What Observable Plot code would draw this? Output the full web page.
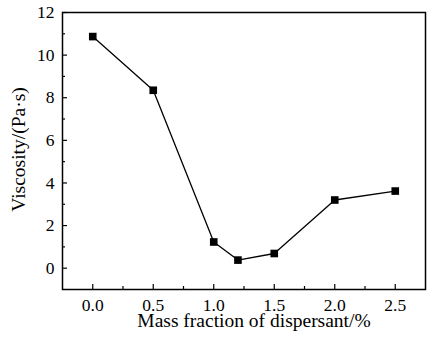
<!DOCTYPE html>
<html><head><meta charset="utf-8">
<script src="https://cdn.jsdelivr.net/npm/d3@7"></script>
<script src="https://cdn.jsdelivr.net/npm/@observablehq/plot@0.6"></script>
<style>body{margin:0;background:#fff}</style>
</head><body><div id="chart"></div>
<script>
const fraction = [0.0, 0.5, 1.0, 1.2, 1.5, 2.0, 2.5];
const viscosity = [10.87, 8.35, 1.23, 0.38, 0.69, 3.2, 3.62];
const xTicks = [0.0, 0.5, 1.0, 1.5, 2.0, 2.5];
const xMinor = [0.25, 0.75, 1.25, 1.75, 2.25];
const yTicks = [0, 2, 4, 6, 8, 10, 12];
const yMinor = [1, 3, 5, 7, 9, 11];
const xLabel = "Mass fraction of dispersant/%";
const yLabel = "Viscosity/(Pa·s)";

const data = fraction.map((f, i) => ({f, v: viscosity[i]}));
const font = "'Liberation Serif', 'Times New Roman', serif";

const chart = Plot.plot({
  width: 429, height: 344,
  marginLeft: 62, marginRight: 4, marginTop: 12, marginBottom: 55,
  style: {fontFamily: font, fontSize: "17.5px", color: "black", background: "white"},
  x: {domain: [-0.25, 2.75]},
  y: {domain: [-1, 12]},
  marks: [
    Plot.axisX(xTicks, {tickSize: 0, tickPadding: 9, tickFormat: d => d.toFixed(1), label: null, fontSize: 17.5, fill: "black"}),
    Plot.axisX(xTicks, {tickSize: -5, text: null, label: null, strokeWidth: 1.2}),
    Plot.axisX(xMinor, {tickSize: -3, text: null, label: null, strokeWidth: 1.2}),
    Plot.axisY(yTicks, {tickSize: 0, tickPadding: 8, label: null, fontSize: 17.5, fill: "black"}),
    Plot.axisY(yTicks, {tickSize: -5, text: null, label: null, strokeWidth: 1.2}),
    Plot.axisY(yMinor, {tickSize: -3, text: null, label: null, strokeWidth: 1.2}),
    Plot.frame({stroke: "black", strokeWidth: 1.5}),
    Plot.line(data, {x: "f", y: "v", stroke: "black", strokeWidth: 1.3}),
    Plot.dot(data, {x: "f", y: "v", symbol: "square", r: 4.3, fill: "black", stroke: "none"}),
    Plot.text([xLabel], {text: d => d, frameAnchor: "bottom", textAnchor: "middle", lineAnchor: "middle", dx: 10, dy: 31, fontSize: 19.5, fill: "black"}),
    Plot.text([yLabel], {text: d => d, frameAnchor: "left", textAnchor: "middle", lineAnchor: "middle", rotate: -90, dx: -44, dy: -1.5, fontSize: 19.5, fill: "black"})
  ]
});
document.getElementById("chart").appendChild(chart);
</script>
</body></html>
